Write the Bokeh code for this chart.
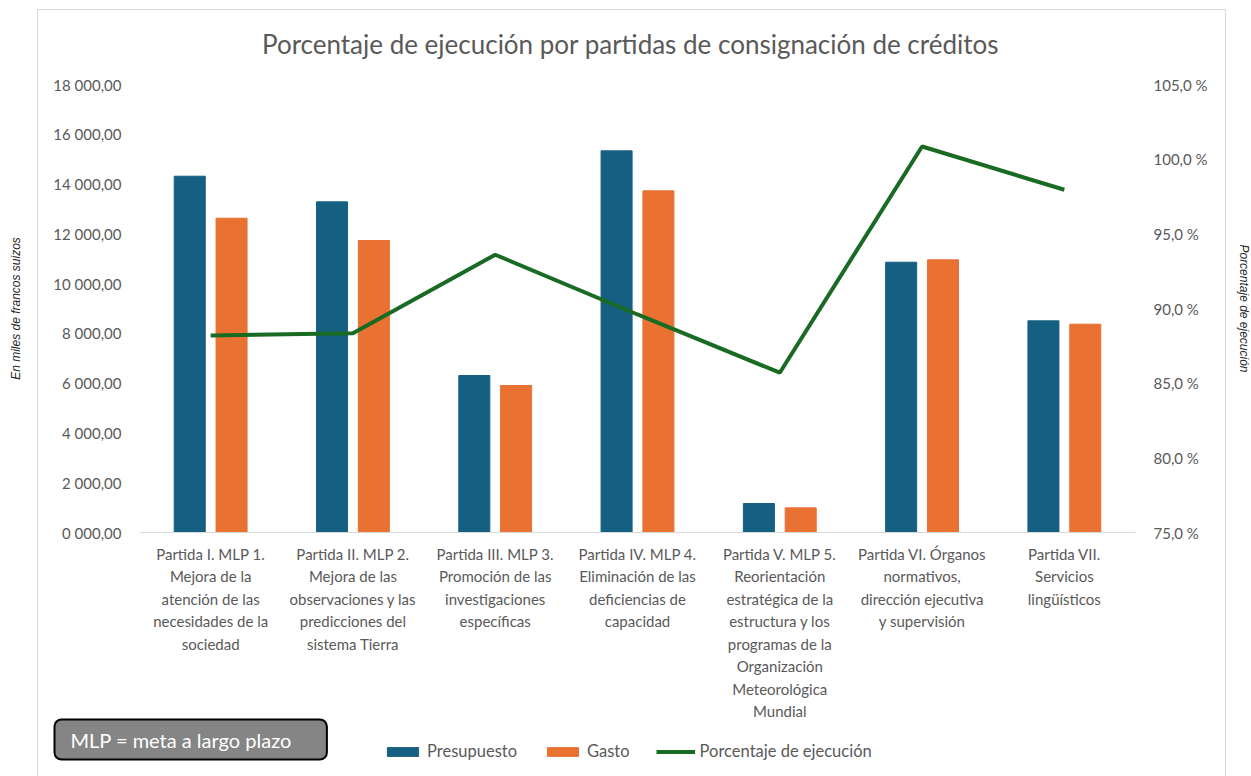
from bokeh.plotting import figure
from bokeh.models import (Range1d, LinearAxis, FixedTicker, Legend, LegendItem, Label,
                          ColumnDataSource, InlineStyleSheet)
from bokeh.transform import dodge
from bokeh.embed import file_html
from bokeh.resources import INLINE

categories = [
    "Partida I. MLP 1.\nMejora de la\natención de las\nnecesidades de la\nsociedad",
    "Partida II. MLP 2.\nMejora de las\nobservaciones y las\npredicciones del\nsistema Tierra",
    "Partida III. MLP 3.\nPromoción de las\ninvestigaciones\nespecíficas",
    "Partida IV. MLP 4.\nEliminación de las\ndeficiencias de\ncapacidad",
    "Partida V. MLP 5.\nReorientación\nestratégica de la\nestructura y los\nprogramas de la\nOrganización\nMeteorológica\nMundial",
    "Partida VI. Órganos\nnormativos,\ndirección ejecutiva\ny supervisión",
    "Partida VII.\nServicios\nlingüísticos",
]
presupuesto = [14315, 13286, 6308, 15335, 1165, 10860, 8505]
gasto = [12628, 11732, 5906, 13728, 992, 10956, 8369]
porcentaje = [88.2, 88.35, 93.6, 89.6, 85.7, 100.85, 97.95]

left_ticks = [0, 2000, 4000, 6000, 8000, 10000, 12000, 14000, 16000, 18000]
left_labels = ["0 000,00", "2 000,00", "4 000,00", "6 000,00", "8 000,00",
               "10 000,00", "12 000,00", "14 000,00", "16 000,00", "18 000,00"]
right_ticks = [75, 80, 85, 90, 95, 100, 105]
right_labels = ["75,0 %", "80,0 %", "85,0 %", "90,0 %", "95,0 %", "100,0 %", "105,0 %"]

title_text = "Porcentaje de ejecución por partidas de consignación de créditos"
series_names = ["Presupuesto", "Gasto", "Porcentaje de ejecución"]
note_text = "MLP = meta a largo plazo"

BLUE = "#156082"
ORANGE = "#E97132"
GREEN = "#196B24"
GREY = "#595959"
FONT = "Lato"

n = len(categories)
xpos = list(range(n))

# canvas 1251 x 776; plot area spans x 139..1135 and y 84..532
W, H = 1251, 776
unit_px = (1135 - 139) / n
x_start = -(139 / unit_px) - 0.5
x_end = x_start + W / unit_px
ypx = 448 / 18000.0
y_start = -(H - 532) / ypx
y_end = 18000 + 84 / ypx
rpx = 448 / 30.0
r_start = 75 - (H - 532) / rpx
r_end = 105 + 84 / rpx

p = figure(width=W, height=H, output_backend="svg", toolbar_location=None, title=None,
           x_range=Range1d(x_start, x_end), y_range=Range1d(y_start, y_end),
           min_border=0, min_border_left=0, min_border_right=0, min_border_top=0, min_border_bottom=0)
p.outline_line_color = None
p.xgrid.grid_line_color = None
p.ygrid.grid_line_color = None

source = ColumnDataSource(dict(x=xpos, pres=presupuesto, gas=gasto, pct=porcentaje))

r1 = p.vbar(x=dodge("x", -0.147), top="pres", width=0.218, source=source,
            fill_color=BLUE, line_color=BLUE)
r2 = p.vbar(x=dodge("x", 0.147), top="gas", width=0.218, source=source,
            fill_color=ORANGE, line_color=ORANGE)

p.extra_y_ranges = {"pct": Range1d(r_start, r_end)}
r3 = p.line(x="x", y="pct", y_range_name="pct", source=source, line_color=GREEN, line_width=4)

# bottom category axis
xa = p.xaxis[0]
xa.ticker = FixedTicker(ticks=xpos)
xa.major_label_overrides = {i: c for i, c in zip(xpos, categories)}
xa.fixed_location = 0
xa.bounds = (-0.5, n - 0.5)
xa.axis_line_color = "#d9d9d9"
xa.axis_line_width = 1
xa.major_tick_line_color = None
xa.minor_tick_line_color = None
xa.major_tick_out = 0
xa.major_label_standoff = 12
xa.major_label_text_font = FONT
xa.major_label_text_font_size = "15px"
xa.major_label_text_color = GREY
xa.major_label_text_line_height = 1.25

# left value axis
ya = p.yaxis[0]
ya.ticker = FixedTicker(ticks=left_ticks)
ya.major_label_overrides = {t: l for t, l in zip(left_ticks, left_labels)}
ya.fixed_location = -0.5
ya.bounds = (left_ticks[0], left_ticks[-1])
ya.axis_line_color = None
ya.major_tick_line_color = None
ya.minor_tick_line_color = None
ya.major_tick_out = 0
ya.major_label_standoff = 18
ya.major_label_text_font = FONT
ya.major_label_text_font_size = "15px"
ya.major_label_text_color = GREY
ya.axis_label = "En miles de francos suizos"
ya.axis_label_text_font = "Liberation Sans"
ya.axis_label_text_font_style = "italic"
ya.axis_label_text_font_size = "12px"
ya.axis_label_text_color = "#262626"
ya.axis_label_standoff = 27

# right percentage axis
ra = LinearAxis(y_range_name="pct", ticker=FixedTicker(ticks=right_ticks))
ra.major_label_overrides = {t: l for t, l in zip(right_ticks, right_labels)}
ra.fixed_location = n - 0.5
ra.bounds = (right_ticks[0], right_ticks[-1])
ra.axis_line_color = None
ra.major_tick_line_color = None
ra.minor_tick_line_color = None
ra.major_tick_out = 0
ra.major_label_standoff = 18
ra.major_label_text_font = FONT
ra.major_label_text_font_size = "15px"
ra.major_label_text_color = GREY
ra.axis_label = "Porcentaje de ejecución"
ra.axis_label_text_font = "Liberation Sans"
ra.axis_label_text_font_style = "italic"
ra.axis_label_text_font_size = "12px"
ra.axis_label_text_color = "#262626"
ra.axis_label_standoff = 26
p.add_layout(ra, "right")

# title
p.add_layout(Label(x=630, y=H - 43, x_units="screen", y_units="screen", text=title_text,
                   text_align="center", text_baseline="middle", text_font=FONT,
                   text_font_size="26px", text_color=GREY))

# legend
legend = Legend(items=[LegendItem(label=series_names[0], renderers=[r1]),
                       LegendItem(label=series_names[1], renderers=[r2]),
                       LegendItem(label=series_names[2], renderers=[r3])],
                orientation="horizontal", location=(383, H - 761), margin=0, padding=0,
                glyph_width=39, glyph_height=11, label_standoff=5, spacing=26,
                label_text_font=FONT, label_text_font_size="16.5px", label_text_color=GREY,
                border_line_color=None, background_fill_alpha=0)
p.add_layout(legend, "center")

# note box (padding given as left, right, top, bottom)
p.add_layout(Label(x=54, y=H - 739, x_units="screen", y_units="screen", text=note_text,
                   text_align="left", text_baseline="middle", text_font=FONT,
                   text_font_size="20px", text_color="white",
                   background_fill_color="#858585", border_line_color="black", border_line_width=2,
                   border_radius=7, padding=(16, 35, 8, 8)))

# chart area border
p.stylesheets = [InlineStyleSheet(css=":host { position: relative; } :host::after { content: ''; position: absolute; left: 37px; top: 9px; width: 1187px; height: 800px; border: 1px solid #d9d9d9; pointer-events: none; }")]

open("out.html", "w").write(file_html(p, INLINE))
